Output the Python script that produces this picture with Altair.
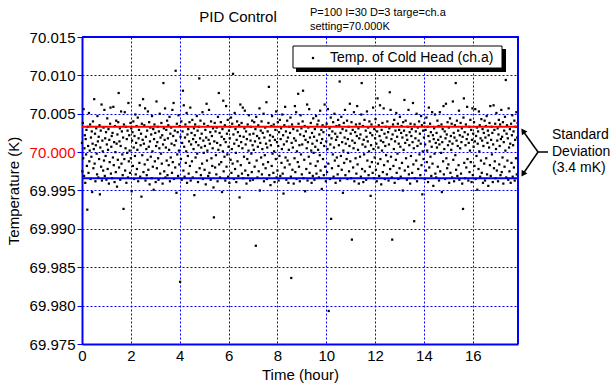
import altair as alt
import pandas as pd

# Temperature deviation from 70.000 K in units of 0.1 mK, one sample per minute
dev_01mK = [
    12, -25, 38, -8, 56, -31, 5, 22, -40, 17, -3, 29, -18, -75, 33, 8, -27, 51, -12, 2, 36, -35, 19, -6, 27, -52, 11, 40, -21, 4,
    69, -15, 24, -38, 9, 31, -2, -29, 47, 14, -33, 20, -9, 35, -55, 6, 28, -19, 62, -37, 15, 1, -24, 32, -11, 55, -31, 18, -5, 26,
    -36, 10, 44, -22, 3, 30, -41, 16, -13, 37, 58, -28, 7, 21, -34, 25, -7, 59, -17, 13, -39, 34, 0, -26, 41, 11, -45, 23, -10, 39,
    77, -20, 14, 31, -36, 8, 53, -15, 27, -3, -30, 19, -74, 36, -9, 52, -24, 5, 33, -40, 17, -1, 28, -33, 64, -12, 22, 2, -27, 38,
    -8, 31, -51, 15, 26, -18, 40, 6, -35, 21, -5, 49, -29, 12, 34, -22, 3, 45, -38, 18, 29, -14, 61, -32, 9, 24, -58, 37, -4, 16,
    69, -26, 11, 35, -16, 57, -37, 20, 4, -30, 28, -10, 53, -23, 7, 39, -42, 14, 32, -6, 23, -34, 47, 1, -19, 30, -49, 17, 36, -12,
    25, -39, 8, 66, -21, 13, 33, -8, -36, 27, 5, 50, -28, 19, -2, 38, -15, 22, -41, 10, 90, 31, -25, 16, 57, -33, 6, 29, -11, 41,
    -30, 18, 35, -17, 3, 46, -38, 24, -7, 32, 11, -27, 55, -13, 21, 64, -35, 9, 28, -20, 106, 15, -53, 37, -3, 26, -31, 48, 2, -16,
    34, -169, 20, -9, 40, -36, 12, 27, 80, -24, 61, 7, -32, 19, 36, -14, 1, 51, -40, 23, -5, 30, -28, 14, 39, -18, 58, -37, 10, 25,
    -12, 42, -33, 17, 4, 31, -56, 22, 36, -7, 13, -26, 47, -2, 28, -39, 9, 33, 96, -21, 18, 41, -30, 6, 24, -15, 52, -35, 15, -1,
    37, -23, 8, 29, -42, 19, 63, -11, 2, 34, -31, 16, 55, -27, 11, 26, -36, 40, -8, 21, -18, 5, 31, -46, -85, 14, 38, -20, 27, -4,
    -29, 32, 12, -38, 46, 3, 77, -16, 25, -33, 9, 39, -13, 20, -52, 30, 1, 67, -25, 17, -6, 35, -37, 13, 60, -19, 24, -3, 42, -32,
    7, 28, -40, 18, 33, -10, 45, -27, 4, 37, -15, 102, 23, -35, 11, 51, -22, 30, -1, -39, 16, 40, -12, 26, -31, 8, 35, -59, 21, 62,
    -17, 13, 38, -28, 5, 58, -34, 20, -6, 31, 54, -24, 10, 27, -41, 17, -9, 36, -30, 2, 48, -14, 23, -37, 15, 33, -2, -26, 41, 9,
    -36, 24, 3, 39, -19, 14, 30, -122, 46, -11, 21, -33, 7, 35, -25, 18, 57, -50, 12, 28, -7, 40, -29, 4, 25, -16, 50, -38, 19, -4,
    32, -21, 11, 65, -35, 6, 27, -13, 38, 85, -30, 15, 22, -43, 9, 34, -18, 47, -2, 20, -27, 36, 1, -39, 16, 29, -9, 53, -33, 13,
    -24, 39, 8, -37, 26, -5, 42, -31, 17, 31, -14, 4, 49, -28, 22, -54, 10, 35, -20, 59, -7, 27, -36, 14, 41, -11, 19, -40, 3, 33,
    -16, 25, 45, -32, -164, 12, 36, -23, 6, 30, -41, 18, -8, 60, -26, 15, 52, -35, 1, 28, -13, 76, 37, -19, 9, -38, 23, 48, -3, 31,
    -29, 10, 40, 80, -34, 21, -10, 34, -51, 16, 27, -22, 5, 62, -37, 13, 32, -6, 56, -27, 19, -15, 38, 2, -40, 25, 11, -31, 44, -1,
    20, -36, 30, 7, -18, 47, -28, 15, 36, -12, 3, 41, -33, 23, -4, 54, -24, 12, 29, -48, 17, 35, -9, 26, -30, 8, 62, -19, 33, -38,
    14, 37, -26, 4, 56, -15, -207, 22, 31, -35, 10, 45, -87, 18, -21, 27, -3, 39, -32, 6, 50, -11, 24, -40, 16, 34, -7, 20, -29, 42,
    -18, 9, 35, 92, -37, 25, -5, 46, -23, 13, 30, -53, 2, 38, -14, 19, 55, -30, 11, 28, -9, 41, -35, 17, -1, 33, -25, 8, 63, -12,
    24, -34, 39, -114, 15, 29, -20, 5, 52, -38, 12, 26, -8, 36, -28, 21, 60, -16, 3, 31, -41, 18, 37, -6, 23, -32, 49, 90, -22, 10,
    34, -39, 16, -3, 42, -25, 7, 28, -36, 20, 53, -11, 14, 32, -30, 1, 40, -19, 25, -57, 9, 36, -13, 22, -27, 58, 4, -34, 30, -7,
    18, 43, -23, 11, -38, 27, 70, -15, 6, 35, -31, 21, 61, -9, 15, -42, 29, 2, 38, -26, 13, 57, -17, 24, -35, 8, 33, -4, 19, -29,
    40, -12, 26, -37, 10, 31, 78, -22, 55, -6, 17, -33, -114, 23, 36, -18, 4, 42, -40, 14, 28, -10, 51, -27, 20, -2, 37, -35, 11, 29,
    -21, 46, 7, -32, 25, 34, -14, 19, -50, 39, 3, 28, 68, -24, 12, 41, -8, 22, -36, 16, 33, -19, 55, -29, 9, 26, -41, 37, -5, 21,
    30, -27, 13, 64, -16, 5, -90, 36, -34, 18, 27, -11, 50, -38, 8, 32, -22, 15, 40, -3, 24, -30, 11, 47, -17, 35, -55, 1, 28, -9,
    19, 38, -35, 10, 29, -24, 45, -13, 2, 33, -39, 21, 58, -20, 14, 37, -6, 26, -31, 7, 52, -15, 22, -44, 17, 31, -2, 49, -28, 12,
    -33, 25, 6, 41, -19, 16, 34, -37, 10, 52, -25, 20, -1, 36, -52, 13, 30, -12, 60, -29, 4, 27, -35, 18, 63, -8, 23, -21, 39, 9,
    -16, 32, -40, 14, 44, -27, 21, 3, 37, -33, 11, 66, -10, 25, -38, 19, 35, -4, 90, -23, 15, 41, -31, 8, 28, -17, 54, -36, 22, 5,
    38, -28, 13, 31, -41, 20, -74, 45, 70, -14, 26, -34, 9, 36, -20, 17, 59, -9, 23, -37, 12, 33, -26, 2, 42, -13, 29, -39, 16, 57,
    -30, 24, 7, 39, -18, 14, 56, -35, 21, -5, 32, -49, 11, 27, -22, 53, 1, 35, -32, 18, -11, 43, -27, 15, 30, -40, 8, 25, -15, 41,
    -37, 19, 34, -8, 47, -29, 12, 28, -44, 22, 6, 38, -17, 60, -31, 16, 33, -3, 25, -39, 10, 61, -21, 29, -12, 37, -34, 4, 51, -24,
    15, 31, -38, 23, 42, -16, 8, 36, -30, 17, 55, -26, 20, -7, 39, -41, 13, 28, -19, 46, 2, 94, -33, 24, 35, -11, 18, -36, 57, 6,
    -25, 30, 11, -40, 37, -14, 22, 48, -32, 9, 27, -20, 41, -37, 16, 33, -8, 52, -29, 19, 38,
]
BASE_K = 70.0
SAMPLE_MINUTES = 1.0

sd_values = [70.0033, 69.9966]
sd_colors = ["#ff0000", "#0000ee"]

y_ticks = [69.975, 69.980, 69.985, 69.990, 69.995, 70.000, 70.005, 70.010, 70.015]
x_ticks = [0, 2, 4, 6, 8, 10, 12, 14, 16]
x_max = 17.85

title_text = "PID Control"
info_lines = ["P=100 I=30 D=3 targe=ch.a", "setting=70.000K"]
legend_label = "Temp. of Cold Head (ch.a)"
sd_lines_text = ["Standard", "Deviation", "(3.4 mK)"]

FONT = "Liberation Sans"
BLUE = "#0000ff"
W, H = 436, 307

df = pd.DataFrame({
    "time": [i * SAMPLE_MINUTES / 60.0 for i in range(len(dev_01mK))],
    "temp": [round(BASE_K + d * 1e-4, 5) for d in dev_01mK],
})
sd_df = pd.DataFrame({"temp": sd_values, "c": sd_colors})
one = pd.DataFrame({"k": [0]})

xs = alt.Scale(domain=[0, x_max], nice=False, zero=False)
ys = alt.Scale(domain=[69.975, 70.015], nice=False, zero=False)

x_axis = alt.Axis(values=x_ticks, title="Time (hour)", format="d", labelFontSize=15,
                  titleFontSize=15, titleFontWeight="normal", labelFont=FONT, titleFont=FONT,
                  labelColor="black", titleColor="black", labelFlush=False, labelOverlap=False,
                  domainColor=BLUE, domainWidth=2, gridColor=BLUE, gridDash=[2, 2],
                  gridWidth=1, gridOpacity=1, ticks=False, labelPadding=4, titlePadding=4)
y_axis = alt.Axis(values=y_ticks, title="Temperature (K)", format=".3f", labelFontSize=15,
                  titleFontSize=15, titleFontWeight="normal", labelFont=FONT, titleFont=FONT,
                  labelColor={"condition": {"test": "abs(datum.value - 70) < 0.000001", "value": "#ff0000"},
                              "value": "black"},
                  titleColor="black", labelFlush=False, labelOverlap=False,
                  domainColor=BLUE, domainWidth=2, gridColor=BLUE, gridDash=[2, 2],
                  gridWidth=1, gridOpacity=1, tickColor=BLUE, tickSize=5, labelPadding=2,
                  titlePadding=8)

points = alt.Chart(df).mark_square(size=5, color="black", opacity=1).encode(
    x=alt.X("time:Q", scale=xs, axis=x_axis),
    y=alt.Y("temp:Q", scale=ys, axis=y_axis),
)

sd_rules = alt.Chart(sd_df).mark_rule(strokeWidth=2).encode(
    y=alt.Y("temp:Q", scale=ys, axis=y_axis),
    color=alt.Color("c:N", scale=None),
)

# frame (top and right edges)
frame_top = alt.Chart(one).mark_rule(color=BLUE, strokeWidth=2).encode(
    x=alt.value(0), x2=alt.value(W + 1), y=alt.value(0), y2=alt.value(0))
frame_right = alt.Chart(one).mark_rule(color=BLUE, strokeWidth=2).encode(
    x=alt.value(W), x2=alt.value(W), y=alt.value(0), y2=alt.value(H))

# legend box
shadow = alt.Chart(one).mark_rect(color="black").encode(
    x=alt.value(214), x2=alt.value(424), y=alt.value(12), y2=alt.value(35))
box = alt.Chart(one).mark_rect(fill="white", stroke="black", strokeWidth=1).encode(
    x=alt.value(211), x2=alt.value(420), y=alt.value(9), y2=alt.value(31))
leg_dot = alt.Chart(one).mark_square(size=5, color="black", opacity=1).encode(
    x=alt.value(231), y=alt.value(21))
leg_text = alt.Chart(one).mark_text(text=legend_label, font=FONT, fontSize=14, align="left",
                                    baseline="middle", color="black").encode(
    x=alt.value(248), y=alt.value(21))

title = alt.Chart(one).mark_text(text=title_text, font=FONT, fontSize=15, align="center",
                                 baseline="middle", color="black").encode(
    x=alt.value(156), y=alt.value(-20))
info1 = alt.Chart(one).mark_text(text=info_lines[0], font=FONT, fontSize=11, align="left",
                                 baseline="middle", color="black").encode(
    x=alt.value(228), y=alt.value(-24))
info2 = alt.Chart(one).mark_text(text=info_lines[1], font=FONT, fontSize=11, align="left",
                                 baseline="middle", color="black").encode(
    x=alt.value(228), y=alt.value(-10))

sd_t = [
    alt.Chart(one).mark_text(text=t, font=FONT, fontSize=14, align="left", baseline="middle",
                             color="black").encode(x=alt.value(470), y=alt.value(yy))
    for t, yy in zip(sd_lines_text, [98, 115, 131])
]

arr_h = alt.Chart(one).mark_rule(color="black", strokeWidth=1.5).encode(
    x=alt.value(456), x2=alt.value(466), y=alt.value(115), y2=alt.value(115))
arr_u = alt.Chart(one).mark_rule(color="black", strokeWidth=1.5).encode(
    x=alt.value(456), x2=alt.value(441), y=alt.value(115), y2=alt.value(94))
arr_d = alt.Chart(one).mark_rule(color="black", strokeWidth=1.5).encode(
    x=alt.value(456), x2=alt.value(441), y=alt.value(115), y2=alt.value(137))
head_u = alt.Chart(one).mark_point(shape="triangle-up", filled=True, size=45, angle=325,
                                   color="black", opacity=1).encode(
    x=alt.value(441), y=alt.value(94))
head_d = alt.Chart(one).mark_point(shape="triangle-up", filled=True, size=45, angle=213,
                                   color="black", opacity=1).encode(
    x=alt.value(441), y=alt.value(137))

chart = alt.layer(
    points, sd_rules, frame_top, frame_right, shadow, box, leg_dot, leg_text, title, info1, info2,
    *sd_t, arr_h, arr_u, arr_d, head_u, head_d,
).properties(
    width=W, height=H,
    padding={"left": 82, "top": 37, "right": 94, "bottom": 40},
    autosize=alt.AutoSizeParams(type="none"),
).configure_view(stroke=BLUE, strokeWidth=2).configure(background="white")

chart.save("out.html", embed_options={"renderer": "svg", "actions": False})
